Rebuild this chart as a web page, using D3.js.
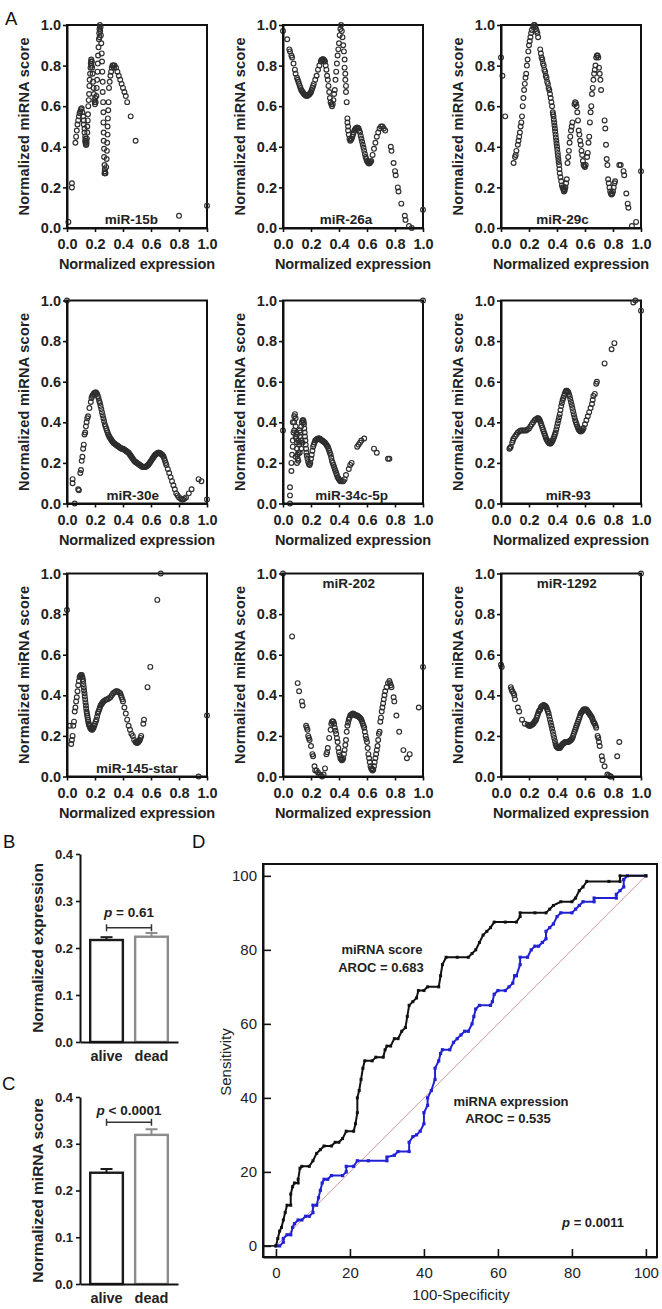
<!DOCTYPE html>
<html><head><meta charset="utf-8">
<script src="https://cdn.jsdelivr.net/npm/d3@7"></script>
<style>
html,body{margin:0;padding:0;background:#fff;}
svg{display:block;font-family:"Liberation Sans",Arial,Helvetica,sans-serif;}
</style></head>
<body>
<svg id="c" width="662" height="1309"></svg>
<script>
// ---------- Panel A data: [normalized expression, normalized miRNA score] ----------
const miR15b = [[0.01,0.03],[0.035,0.2],[0.035,0.22],
[0.06,0.42],[0.065,0.45],[0.07,0.48],[0.075,0.51],[0.08,0.53],[0.085,0.55],[0.09,0.565],[0.095,0.575],[0.1,0.585],[0.105,0.59],
[0.11,0.57],[0.115,0.55],[0.12,0.53],[0.12,0.51],[0.125,0.49],[0.125,0.47],[0.13,0.45],[0.13,0.43],[0.132,0.42],[0.135,0.41],[0.138,0.41],[0.14,0.42],[0.136,0.43],[0.133,0.44],
[0.142,0.44],[0.145,0.47],[0.145,0.5],[0.148,0.53],[0.15,0.56],[0.152,0.6],[0.155,0.63],[0.158,0.66],[0.16,0.7],[0.162,0.73],[0.165,0.76],[0.168,0.79],[0.17,0.81],[0.173,0.83],[0.178,0.82],[0.175,0.8],[0.172,0.82],
[0.18,0.79],[0.183,0.76],[0.186,0.72],[0.19,0.69],[0.192,0.66],[0.195,0.63],[0.2,0.61],[0.205,0.62],[0.198,0.62],[0.202,0.64],
[0.21,0.65],[0.212,0.69],[0.215,0.73],[0.218,0.77],[0.22,0.81],[0.222,0.85],[0.225,0.89],[0.228,0.93],[0.23,0.96],[0.232,0.98],[0.235,1.0],[0.24,0.99],[0.237,0.97],[0.233,0.94],
[0.242,0.95],[0.245,0.91],[0.248,0.86],[0.25,0.82],[0.252,0.77],[0.255,0.72],[0.255,0.67],[0.258,0.62],[0.26,0.57],[0.26,0.52],[0.262,0.47],[0.262,0.43],[0.265,0.39],[0.265,0.35],[0.268,0.31],[0.27,0.28],[0.272,0.27],[0.275,0.27],[0.27,0.29],[0.268,0.27],
[0.28,0.3],[0.283,0.34],[0.285,0.38],[0.287,0.42],[0.29,0.46],[0.29,0.5],[0.292,0.54],[0.295,0.58],[0.297,0.62],
[0.3,0.69],[0.305,0.72],[0.31,0.75],[0.315,0.77],[0.32,0.79],[0.33,0.8],[0.34,0.8],[0.325,0.8],[0.335,0.79],
[0.35,0.79],[0.36,0.77],[0.37,0.75],[0.38,0.73],[0.39,0.71],[0.4,0.69],[0.41,0.67],[0.42,0.65],[0.43,0.62],
[0.455,0.55],[0.49,0.43],[0.8,0.06],[1.0,0.11]];

const miR26a = [[0.0,0.97],[0.03,0.93],[0.045,0.88],[0.05,0.87],[0.06,0.85],[0.065,0.84],[0.075,0.81],[0.085,0.78],[0.09,0.76],[0.1,0.74],[0.105,0.73],[0.11,0.72],[0.115,0.71],[0.12,0.7],[0.125,0.69],[0.13,0.68],[0.135,0.675],[0.14,0.67],[0.145,0.665],[0.15,0.66],[0.155,0.657],[0.16,0.655],[0.165,0.652],[0.17,0.65],[0.175,0.652],[0.18,0.655],[0.185,0.657],[0.19,0.66],[0.195,0.665],[0.2,0.67],[0.205,0.68],[0.21,0.69],[0.215,0.7],[0.22,0.71],[0.23,0.73],[0.24,0.75],[0.25,0.78],[0.26,0.8],[0.27,0.82],[0.275,0.828],[0.28,0.83],[0.285,0.832],[0.29,0.83],[0.295,0.825],[0.3,0.82],[0.305,0.8],[0.31,0.78],[0.315,0.75],[0.32,0.73],[0.325,0.7],[0.33,0.67],[0.335,0.64],[0.34,0.62],[0.345,0.61],[0.35,0.6],[0.355,0.61],[0.36,0.63],[0.365,0.66],[0.37,0.68],[0.375,0.73],[0.38,0.77],[0.385,0.81],[0.39,0.85],[0.395,0.88],[0.4,0.91],[0.405,0.95],[0.41,0.98],[0.415,1.0],[0.42,0.97],[0.425,0.94],[0.43,0.9],[0.435,0.87],[0.44,0.83],[0.44,0.79],[0.445,0.76],[0.445,0.73],[0.45,0.7],[0.45,0.67],[0.455,0.62],[0.46,0.54],[0.46,0.52],[0.465,0.5],[0.465,0.48],[0.47,0.46],[0.475,0.44],[0.48,0.43],[0.485,0.435],[0.49,0.44],[0.495,0.45],[0.5,0.46],[0.505,0.47],[0.51,0.48],[0.515,0.485],[0.52,0.49],[0.525,0.493],[0.53,0.495],[0.535,0.493],[0.54,0.49],[0.545,0.48],[0.55,0.47],[0.555,0.455],[0.56,0.44],[0.565,0.425],[0.57,0.41],[0.575,0.395],[0.58,0.38],[0.585,0.365],[0.59,0.35],[0.595,0.34],[0.6,0.33],[0.605,0.325],[0.61,0.32],[0.615,0.318],[0.62,0.32],[0.625,0.325],[0.63,0.33],[0.64,0.36],[0.65,0.39],[0.66,0.42],[0.67,0.45],[0.68,0.47],[0.69,0.49],[0.7,0.5],[0.71,0.5],[0.72,0.49],[0.73,0.48],[0.77,0.4],[0.775,0.38],[0.79,0.32],[0.8,0.28],[0.805,0.26],[0.82,0.2],[0.825,0.18],[0.845,0.12],[0.87,0.06],[0.875,0.04],[0.9,0.01],[0.92,0.0],[1.0,0.09]];

const miR29c = [[0.0,0.84],[0.01,0.75],[0.03,0.55],
[0.09,0.32],[0.1,0.35],[0.105,0.36],[0.11,0.38],[0.12,0.41],[0.125,0.43],[0.13,0.45],[0.135,0.47],[0.14,0.5],[0.145,0.52],[0.15,0.55],[0.155,0.6],[0.16,0.64],[0.165,0.68],[0.17,0.71],[0.175,0.74],[0.18,0.76],[0.185,0.8],[0.19,0.83],[0.195,0.87],[0.2,0.9],[0.205,0.92],[0.21,0.94],[0.215,0.96],[0.22,0.975],[0.23,0.99],[0.235,1.0],[0.24,1.0],[0.245,0.99],[0.25,0.98],[0.255,0.97],[0.26,0.96],[0.265,0.94],
[0.28,0.88],[0.285,0.86],[0.29,0.84],[0.295,0.83],[0.3,0.81],[0.305,0.8],[0.31,0.78],[0.315,0.77],[0.32,0.75],[0.325,0.74],[0.33,0.72],[0.335,0.71],[0.34,0.69],[0.345,0.68],[0.35,0.66],[0.355,0.64],[0.36,0.62],[0.365,0.6],[0.37,0.57],[0.375,0.55],[0.38,0.52],[0.385,0.49],[0.39,0.46],[0.395,0.43],[0.4,0.4],[0.405,0.37],[0.41,0.34],[0.415,0.31],[0.42,0.27],[0.425,0.25],[0.43,0.23],[0.435,0.21],[0.44,0.2],[0.445,0.19],[0.45,0.18],[0.455,0.185],[0.46,0.2],[0.465,0.22],[0.47,0.24],
[0.372,0.56],[0.377,0.535],[0.382,0.505],[0.387,0.475],[0.392,0.445],[0.397,0.415],[0.402,0.385],[0.407,0.355],[0.412,0.325],[0.417,0.29],[0.447,0.2],[0.452,0.19],[0.457,0.2],
[0.475,0.32],[0.48,0.35],[0.485,0.38],[0.49,0.42],[0.495,0.45],[0.5,0.48],[0.505,0.5],[0.51,0.52],
[0.525,0.61],[0.53,0.62],[0.535,0.615],[0.54,0.6],[0.545,0.57],[0.55,0.53],[0.555,0.48],[0.56,0.46],[0.565,0.43],[0.57,0.41],[0.575,0.38],[0.58,0.36],[0.585,0.33],[0.59,0.31],[0.595,0.305],[0.6,0.3],[0.605,0.31],
[0.615,0.35],[0.62,0.37],[0.625,0.42],[0.63,0.45],[0.635,0.52],[0.64,0.57],[0.645,0.6],[0.65,0.66],[0.655,0.69],[0.66,0.73],[0.665,0.76],[0.67,0.78],[0.675,0.8],[0.68,0.84],[0.685,0.85],[0.69,0.85],[0.695,0.84],
[0.7,0.79],[0.705,0.76],[0.71,0.73],[0.715,0.68],
[0.74,0.53],[0.745,0.49],[0.75,0.41],[0.755,0.34],[0.76,0.31],[0.765,0.24],[0.77,0.22],[0.775,0.2],[0.78,0.18],[0.785,0.17],[0.79,0.165],[0.795,0.17],[0.8,0.18],[0.805,0.2],[0.81,0.22],[0.815,0.23],
[0.845,0.31],[0.855,0.31],[0.875,0.28],[0.88,0.26],[0.895,0.17],[0.905,0.12],[0.91,0.1],[0.935,0.01],[0.965,0.03],[1.0,0.28]];

const miR30e = [[0.0,1.0],[0.04,0.12],[0.04,0.1],[0.055,0.0],[0.08,0.07],[0.085,0.065],[0.095,0.15],[0.1,0.165],[0.105,0.21],[0.11,0.23],[0.115,0.27],[0.12,0.29],[0.125,0.34],[0.13,0.35],[0.135,0.38],[0.14,0.4],[0.145,0.42],[0.15,0.43],[0.16,0.47],[0.17,0.5],[0.175,0.52],[0.18,0.53],[0.185,0.535],[0.19,0.54],[0.195,0.545],[0.2,0.545],[0.205,0.548],[0.21,0.545],[0.215,0.54],[0.22,0.53],[0.225,0.52],[0.23,0.505],[0.235,0.495],[0.24,0.48],[0.245,0.465],[0.25,0.45],[0.255,0.435],[0.26,0.42],[0.265,0.405],[0.27,0.39],[0.275,0.38],[0.28,0.37],[0.285,0.36],[0.29,0.35],[0.295,0.34],[0.3,0.333],[0.305,0.326],[0.31,0.32],[0.315,0.315],[0.32,0.31],[0.325,0.305],[0.33,0.3],[0.335,0.297],[0.34,0.295],[0.345,0.292],[0.35,0.29],[0.355,0.287],[0.36,0.285],[0.365,0.282],[0.37,0.28],[0.375,0.277],[0.38,0.275],[0.385,0.272],[0.39,0.27],[0.395,0.27],[0.4,0.27],[0.405,0.267],[0.41,0.265],[0.415,0.262],[0.42,0.26],[0.425,0.257],[0.43,0.255],[0.435,0.252],[0.44,0.25],[0.445,0.245],[0.45,0.24],[0.455,0.235],[0.46,0.23],[0.465,0.225],[0.47,0.22],[0.475,0.215],[0.48,0.21],[0.485,0.207],[0.49,0.205],[0.495,0.202],[0.5,0.2],[0.505,0.197],[0.51,0.195],[0.515,0.192],[0.52,0.19],[0.525,0.187],[0.53,0.185],[0.535,0.182],[0.54,0.18],[0.545,0.18],[0.55,0.18],[0.555,0.18],[0.56,0.18],[0.565,0.182],[0.57,0.185],[0.575,0.187],[0.58,0.19],[0.585,0.195],[0.59,0.2],[0.595,0.205],[0.6,0.21],[0.605,0.215],[0.61,0.22],[0.615,0.225],[0.62,0.23],[0.625,0.235],[0.63,0.24],[0.635,0.242],[0.64,0.245],[0.645,0.248],[0.65,0.25],[0.655,0.25],[0.66,0.25],[0.665,0.248],[0.67,0.245],[0.675,0.242],[0.68,0.24],[0.685,0.235],[0.69,0.23],[0.695,0.22],[0.7,0.21],[0.705,0.2],[0.71,0.19],[0.72,0.17],[0.73,0.15],[0.74,0.13],[0.75,0.11],[0.76,0.09],[0.77,0.07],[0.78,0.05],[0.79,0.04],[0.8,0.03],[0.81,0.025],[0.82,0.02],[0.83,0.02],[0.84,0.025],[0.85,0.03],[0.87,0.05],[0.89,0.07],[0.94,0.12],[0.96,0.11],[1.0,0.02]];

const miR34c5p = [[0.0,0.36],[0.05,0.0],[0.05,0.04],[0.05,0.08],[0.06,0.16],[0.06,0.2],[0.065,0.24],[0.07,0.28],[0.07,0.31],[0.075,0.35],[0.08,0.4],[0.08,0.43],[0.085,0.44],[0.09,0.42],[0.09,0.38],[0.095,0.35],[0.095,0.32],[0.1,0.3],[0.1,0.27],[0.105,0.24],[0.105,0.22],[0.11,0.21],[0.11,0.25],[0.115,0.29],[0.12,0.33],[0.12,0.3],[0.125,0.35],[0.13,0.38],[0.13,0.31],[0.135,0.4],[0.14,0.41],[0.145,0.41],[0.148,0.4],[0.15,0.39],[0.152,0.37],[0.155,0.35],[0.157,0.33],[0.16,0.31],[0.162,0.29],[0.165,0.27],[0.167,0.25],[0.17,0.235],[0.175,0.22],[0.18,0.205],[0.185,0.195],[0.19,0.19],[0.195,0.2],[0.2,0.22],[0.205,0.24],[0.21,0.26],[0.215,0.28],[0.22,0.29],[0.225,0.3],[0.23,0.31],[0.235,0.312],[0.24,0.315],[0.245,0.318],[0.25,0.32],[0.255,0.32],[0.26,0.32],[0.265,0.318],[0.27,0.315],[0.275,0.312],[0.28,0.31],[0.285,0.307],[0.29,0.305],[0.295,0.302],[0.3,0.3],[0.305,0.295],[0.31,0.29],[0.315,0.285],[0.32,0.28],[0.325,0.27],[0.33,0.26],[0.335,0.25],[0.34,0.24],[0.345,0.225],[0.35,0.21],[0.355,0.2],[0.36,0.19],[0.365,0.18],[0.37,0.17],[0.375,0.16],[0.38,0.15],[0.385,0.14],[0.39,0.13],[0.395,0.125],[0.4,0.12],[0.405,0.115],[0.41,0.11],[0.42,0.11],[0.43,0.11],[0.44,0.12],[0.45,0.14],[0.47,0.17],[0.48,0.19],[0.49,0.2],[0.53,0.28],[0.54,0.29],[0.55,0.3],[0.56,0.31],[0.58,0.32],[0.65,0.27],[0.67,0.25],[0.75,0.22],[0.76,0.22],[1.0,1.0],
[0.09,0.33],[0.1,0.34],[0.11,0.31],[0.12,0.25],[0.13,0.27],[0.14,0.3],[0.09,0.23],[0.1,0.2],[0.07,0.4],[0.08,0.36],[0.12,0.36]];

const miR93 = [[0.06,0.27],[0.065,0.275],[0.07,0.28],[0.08,0.3],[0.085,0.31],[0.09,0.32],[0.1,0.33],[0.11,0.34],[0.12,0.35],[0.13,0.355],[0.14,0.36],[0.15,0.36],[0.16,0.36],[0.17,0.36],[0.18,0.36],[0.19,0.365],[0.2,0.37],[0.21,0.38],[0.22,0.39],[0.23,0.4],[0.24,0.41],[0.25,0.415],[0.26,0.42],[0.265,0.42],[0.27,0.418],[0.275,0.413],[0.28,0.405],[0.285,0.395],[0.29,0.385],[0.295,0.375],[0.3,0.365],[0.305,0.355],[0.31,0.345],[0.315,0.335],[0.32,0.325],[0.325,0.317],[0.33,0.31],[0.335,0.305],[0.34,0.3],[0.345,0.297],[0.35,0.295],[0.355,0.296],[0.36,0.3],[0.365,0.305],[0.37,0.312],[0.375,0.32],[0.38,0.33],[0.385,0.34],[0.39,0.35],[0.395,0.365],[0.4,0.38],[0.405,0.395],[0.41,0.41],[0.415,0.425],[0.42,0.44],[0.425,0.46],[0.43,0.48],[0.435,0.495],[0.44,0.51],[0.445,0.52],[0.45,0.53],[0.455,0.54],[0.46,0.55],[0.465,0.555],[0.47,0.555],[0.475,0.553],[0.48,0.548],[0.485,0.54],[0.49,0.53],[0.495,0.515],[0.5,0.5],[0.505,0.485],[0.51,0.47],[0.515,0.455],[0.52,0.44],[0.525,0.425],[0.53,0.41],[0.535,0.4],[0.54,0.39],[0.545,0.38],[0.55,0.372],[0.555,0.365],[0.56,0.36],[0.565,0.357],[0.57,0.355],[0.575,0.357],[0.58,0.36],[0.585,0.365],[0.59,0.372],[0.6,0.39],[0.61,0.41],[0.62,0.43],[0.63,0.45],[0.64,0.47],[0.65,0.49],[0.655,0.51],[0.66,0.53],[0.67,0.54],[0.68,0.59],[0.685,0.6],[0.74,0.69],[0.79,0.76],[0.81,0.79],[0.945,0.99],[0.96,1.0],[1.0,0.95]];

const miR145star = [[0.0,0.82],[0.02,0.25],[0.03,0.16],[0.035,0.18],[0.04,0.2],[0.045,0.25],[0.05,0.27],[0.055,0.32],[0.06,0.34],[0.065,0.37],[0.07,0.39],[0.075,0.42],[0.08,0.45],[0.085,0.47],[0.09,0.49],[0.095,0.495],[0.1,0.5],[0.105,0.5],[0.11,0.49],[0.112,0.48],[0.115,0.47],[0.117,0.455],[0.12,0.44],[0.122,0.425],[0.125,0.41],[0.127,0.395],[0.13,0.38],[0.132,0.365],[0.135,0.35],[0.137,0.335],[0.14,0.32],[0.142,0.31],[0.145,0.3],[0.147,0.29],[0.15,0.28],[0.152,0.27],[0.155,0.26],[0.158,0.255],[0.16,0.25],[0.165,0.24],[0.17,0.235],[0.175,0.232],[0.18,0.23],[0.185,0.235],[0.19,0.24],[0.195,0.25],[0.2,0.26],[0.205,0.27],[0.21,0.28],[0.215,0.295],[0.22,0.31],[0.225,0.32],[0.23,0.33],[0.235,0.34],[0.24,0.35],[0.245,0.355],[0.25,0.36],[0.255,0.365],[0.26,0.37],[0.27,0.375],[0.28,0.38],[0.29,0.38],[0.3,0.385],[0.31,0.39],[0.32,0.4],[0.33,0.41],[0.34,0.415],[0.35,0.42],[0.36,0.42],[0.37,0.415],[0.38,0.41],[0.385,0.4],[0.39,0.39],[0.395,0.38],[0.4,0.37],[0.41,0.34],[0.42,0.31],[0.43,0.28],[0.44,0.25],[0.45,0.23],[0.46,0.21],[0.47,0.2],[0.48,0.18],[0.49,0.17],[0.495,0.168],[0.5,0.165],[0.505,0.167],[0.51,0.17],[0.515,0.175],[0.52,0.18],[0.525,0.19],[0.53,0.2],[0.545,0.26],[0.55,0.28],[0.575,0.44],[0.595,0.54],[0.645,0.87],[0.67,1.0],[0.94,0.0],[1.0,0.3]];

const miR202 = [[0.0,1.0],[0.065,0.69],[0.105,0.46],[0.115,0.42],[0.135,0.37],[0.14,0.35],[0.165,0.25],[0.17,0.24],[0.175,0.23],[0.18,0.2],[0.185,0.19],[0.19,0.18],[0.2,0.15],[0.21,0.11],[0.215,0.1],[0.225,0.05],[0.23,0.03],[0.24,0.03],[0.25,0.02],[0.26,0.01],[0.27,0.005],[0.28,0.0],[0.29,0.01],[0.3,0.04],[0.31,0.11],[0.315,0.12],[0.32,0.14],[0.33,0.19],[0.34,0.23],[0.345,0.26],[0.35,0.27],[0.355,0.272],[0.36,0.27],[0.365,0.26],[0.37,0.24],[0.375,0.225],[0.38,0.21],[0.385,0.19],[0.39,0.17],[0.395,0.14],[0.4,0.12],[0.405,0.105],[0.41,0.09],[0.415,0.085],[0.42,0.08],[0.425,0.083],[0.43,0.09],[0.435,0.11],[0.44,0.13],[0.445,0.155],[0.45,0.18],[0.455,0.22],[0.46,0.25],[0.465,0.265],[0.47,0.28],[0.475,0.29],[0.48,0.3],[0.485,0.303],[0.49,0.305],[0.495,0.308],[0.5,0.31],[0.505,0.308],[0.51,0.305],[0.515,0.303],[0.52,0.3],[0.525,0.3],[0.53,0.3],[0.535,0.298],[0.54,0.295],[0.545,0.292],[0.55,0.29],[0.555,0.285],[0.56,0.28],[0.565,0.27],[0.57,0.26],[0.575,0.25],[0.58,0.24],[0.585,0.22],[0.59,0.2],[0.595,0.185],[0.6,0.17],[0.605,0.14],[0.61,0.11],[0.615,0.09],[0.62,0.07],[0.625,0.05],[0.63,0.04],[0.635,0.035],[0.64,0.03],[0.645,0.035],[0.65,0.05],[0.655,0.07],[0.66,0.09],[0.665,0.11],[0.67,0.13],[0.675,0.15],[0.68,0.18],[0.685,0.21],[0.69,0.22],[0.695,0.27],[0.7,0.29],[0.705,0.32],[0.71,0.34],[0.715,0.36],[0.72,0.38],[0.725,0.4],[0.73,0.42],[0.74,0.44],[0.75,0.46],[0.76,0.47],[0.765,0.46],[0.77,0.45],[0.775,0.44],[0.79,0.39],[0.795,0.37],[0.81,0.3],[0.83,0.22],[0.86,0.13],[0.885,0.09],[0.905,0.11],[0.97,0.34],[1.0,0.54]];

const miR1292 = [[0.0,0.55],[0.005,0.54],[0.07,0.44],[0.075,0.43],[0.08,0.42],[0.09,0.41],[0.095,0.4],[0.1,0.38],[0.12,0.34],[0.13,0.32],[0.15,0.28],[0.17,0.26],[0.19,0.255],[0.2,0.25],[0.205,0.25],[0.21,0.25],[0.215,0.252],[0.22,0.255],[0.225,0.258],[0.23,0.26],[0.235,0.265],[0.24,0.27],[0.245,0.275],[0.25,0.28],[0.255,0.29],[0.26,0.3],[0.265,0.31],[0.27,0.32],[0.275,0.325],[0.28,0.33],[0.285,0.34],[0.29,0.345],[0.295,0.348],[0.3,0.35],[0.305,0.352],[0.31,0.35],[0.315,0.348],[0.32,0.345],[0.325,0.34],[0.33,0.33],[0.335,0.32],[0.34,0.31],[0.345,0.295],[0.35,0.28],[0.355,0.265],[0.36,0.25],[0.365,0.235],[0.37,0.22],[0.375,0.205],[0.38,0.19],[0.385,0.175],[0.39,0.16],[0.395,0.15],[0.4,0.145],[0.405,0.142],[0.41,0.14],[0.415,0.14],[0.42,0.14],[0.425,0.145],[0.43,0.15],[0.435,0.155],[0.44,0.16],[0.445,0.163],[0.45,0.165],[0.455,0.168],[0.46,0.17],[0.465,0.17],[0.47,0.17],[0.475,0.17],[0.48,0.17],[0.485,0.172],[0.49,0.175],[0.495,0.177],[0.5,0.18],[0.505,0.185],[0.51,0.19],[0.515,0.2],[0.52,0.21],[0.525,0.22],[0.53,0.23],[0.535,0.24],[0.54,0.25],[0.545,0.26],[0.55,0.27],[0.555,0.28],[0.56,0.29],[0.565,0.3],[0.57,0.31],[0.575,0.315],[0.58,0.32],[0.585,0.325],[0.59,0.33],[0.595,0.33],[0.6,0.33],[0.605,0.33],[0.61,0.33],[0.615,0.325],[0.62,0.32],[0.625,0.315],[0.63,0.31],[0.635,0.305],[0.64,0.3],[0.645,0.295],[0.65,0.29],[0.655,0.28],[0.66,0.27],[0.665,0.265],[0.67,0.26],[0.675,0.25],[0.68,0.24],[0.69,0.2],[0.695,0.19],[0.7,0.17],[0.705,0.15],[0.72,0.1],[0.725,0.08],[0.74,0.05],[0.76,0.01],[0.77,0.005],[0.78,0.0],[0.785,0.0],[0.83,0.1],[0.845,0.17],[1.0,1.0]];

const panelNames = ["miR-15b","miR-26a","miR-29c","miR-30e","miR-34c-5p","miR-93","miR-145-star","miR-202","miR-1292"];
const panelData = [miR15b,miR26a,miR29c,miR30e,miR34c5p,miR93,miR145star,miR202,miR1292];
const labelAtTop = [false,false,false,false,false,false,false,true,true];
const axisTicksA = [0,0.2,0.4,0.6,0.8,1.0];

// ---------- Panels B & C ----------
const groups = ["alive","dead"];
const exprMean = [0.217,0.224];
const exprErr  = [0.006,0.008];
const scoreMean = [0.238,0.319];
const scoreErr  = [0.008,0.012];
const barTicks = [0,0.1,0.2,0.3,0.4];

// ---------- Panel D (ROC) ----------
const rocScore = [[0,0],[0.5,2],[1,4],[1.5,5],[2,7],[2.5,9],[3,11],[4,11],[4,14],[4.5,16],[5,17],[6,17],[6,18],[6.5,21],[7,21.5],[9,21.5],[10,23],[11,25],[12,26],[13,27],[15,27],[16,28],[17,28],[18,29],[19,31],[21,31],[21.5,33],[22,36],[22,40],[22.5,42],[23,45],[23.5,48],[24,50],[26,50],[27,51],[29,51],[29.5,53],[30,54],[31,54],[32,56],[33,56],[34,58],[35,59],[35.5,62],[36,65],[37,66],[38,67],[38.5,69],[40,69],[41,70],[44,70],[44.5,73],[45,76],[46,78],[49,78],[52,78],[53,79],[54,80],[55,82],[56,84],[57,85],[58,86],[59,87.5],[62,87.5],[65,87.5],[66,89],[66,90],[70,90],[73,90],[74,91],[75,92],[77,93],[80,93],[81,94],[82,96],[83,97],[84,98.5],[90,98.5],[93,98.5],[93,100],[100,100]];
const rocExpr = [[0,0],[1,0],[2,1],[2,2],[3,3],[4,3],[4.5,5],[5,6],[6,7],[7,7],[8,8],[9,8],[10,9],[10,11],[11,11],[11.5,13],[12,15],[12.5,17],[13,18],[14,18],[15,19],[18,19],[19,20],[19,21.5],[21,21.5],[22,23],[25,23],[30,23],[30,24],[32,24.5],[33,25.5],[36,25.5],[36,28],[37,29.5],[38,30],[39,31],[40,33],[40,36],[41,38],[41,40],[42,42],[43,45],[43,48],[44,50],[44.5,52],[45,53],[47,53],[48,55],[49,56],[50,57],[51,58],[52,58],[53,60],[53.5,62],[54,64],[55,65],[58,65],[58.5,66],[59,68],[60,69],[62,69],[63,70],[64,71],[64.5,73],[65,73],[66,76],[66,78],[68,78],[69,80],[70,81],[71,81],[72,82],[73,83],[73,85],[74,86],[75,87],[76,89],[77,90],[80,90],[81,91],[82,92],[83,93],[86,93],[86,94],[92,94],[92,95],[93,96],[94,97],[94,99],[95,100],[100,100]];
const rocTicks = [0,20,40,60,80,100];

// ================= drawing =================
const svg = d3.select("#c");
svg.append("rect").attr("width",662).attr("height",1309).attr("fill","#fff");
const FONT = '"Liberation Sans",Arial,Helvetica,sans-serif';

function styleAxis(g, lw){
  g.select(".domain").attr("stroke","#111").attr("stroke-width",lw);
  g.selectAll(".tick line").attr("stroke","#111").attr("stroke-width",1.6);
}

// Panel letters
[["A",5,25],["B",3,848],["D",192,848],["C",2,1090]].forEach(([t,x,y])=>{
  svg.append("text").attr("x",x).attr("y",y).attr("font-size",18.5).attr("fill","#111").text(t);
});

// ---- Panel A ----
const colX = [67,283,501], rowY = [25,300.5,573.5], PW = 140, PH = 203;
const labelCx = [0.46,0.45,0.44,0.47,0.49,0.48,0.5,0.47,0.47];
panelData.forEach((data,i)=>{
  const x0 = colX[i%3], y0 = rowY[Math.floor(i/3)];
  const x = d3.scaleLinear().domain([0,1]).range([x0,x0+PW]);
  const y = d3.scaleLinear().domain([0,1]).range([y0+PH,y0]);
  const g = svg.append("g");
  g.append("rect").attr("x",x0).attr("y",y0).attr("width",PW).attr("height",PH)
    .attr("fill","none").attr("stroke","#111").attr("stroke-width",2);
  g.selectAll("circle").data(data).join("circle")
    .attr("cx",d=>x(d[0])).attr("cy",d=>y(d[1])).attr("r",2.4)
    .attr("fill","none").attr("stroke","#2e2e2e").attr("stroke-width",1.15);
  const ax = g.append("g").attr("transform",`translate(0,${y0+PH})`)
    .call(d3.axisBottom(x).tickValues(axisTicksA).tickFormat(d3.format(".1f")).tickSize(4).tickSizeOuter(0).tickPadding(7));
  const ay = g.append("g").attr("transform",`translate(${x0},0)`)
    .call(d3.axisLeft(y).tickValues(axisTicksA).tickFormat(d3.format(".1f")).tickSize(4).tickSizeOuter(0).tickPadding(2));
  [ax,ay].forEach(a=>{styleAxis(a,2); a.selectAll("text").attr("font-family",FONT).attr("font-size",14.5).attr("font-weight","bold").attr("fill","#222");});
  g.append("text").attr("x",x0+PW/2).attr("y",y0+PH+41).attr("text-anchor","middle")
    .attr("font-size",14.5).attr("font-weight","bold").attr("fill","#222")
    .attr("textLength",156).attr("lengthAdjust","spacing").text("Normalized expression");
  g.append("text").attr("transform",`translate(${x0-38},${y0+PH/2}) rotate(-90)`).attr("text-anchor","middle")
    .attr("font-size",14.5).attr("font-weight","bold").attr("fill","#222")
    .attr("textLength",178).attr("lengthAdjust","spacing").text("Normalized miRNA score");
  const ly = labelAtTop[i] ? y(0.93) : y(0.0)-4;
  g.append("text").attr("x",x(labelCx[i])).attr("y",ly).attr("text-anchor","middle")
    .attr("font-size",13.5).attr("font-weight","bold").attr("fill","#222").text(panelNames[i]);
});

// ---- Panels B & C ----
function barPanel(top, bottom, means, errs, title, pText, pY, brY){
  const y = d3.scaleLinear().domain([0,0.4]).range([bottom,top]);
  const x = d3.scaleBand().domain(groups).range([80,178]).paddingInner(0.22).paddingOuter(0.2);
  const g = svg.append("g");
  const cols = ["#1a1a1a","#8c8c8c"];
  groups.forEach((k,j)=>{
    const bx = x(k), bw = x.bandwidth(), cx = bx+bw/2;
    g.append("rect").attr("x",bx+1.2).attr("y",y(means[j])).attr("width",bw-2.4).attr("height",y(0)-y(means[j]))
      .attr("fill","#fff").attr("stroke",cols[j]).attr("stroke-width",2.4);
    g.append("line").attr("x1",cx).attr("x2",cx).attr("y1",y(means[j])).attr("y2",y(means[j]+errs[j]))
      .attr("stroke",cols[j]).attr("stroke-width",2);
    g.append("line").attr("x1",cx-6).attr("x2",cx+6).attr("y1",y(means[j]+errs[j])).attr("y2",y(means[j]+errs[j]))
      .attr("stroke",cols[j]).attr("stroke-width",2);
  });
  const ay = g.append("g").attr("transform","translate(80,0)")
    .call(d3.axisLeft(y).tickValues(barTicks).tickFormat(d3.format(".1f")).tickSize(4).tickSizeOuter(0).tickPadding(3));
  styleAxis(ay,2);
  ay.selectAll("text").attr("font-family",FONT).attr("font-size",13).attr("font-weight","bold").attr("fill","#222");
  const ax = g.append("g").attr("transform",`translate(0,${bottom})`)
    .call(d3.axisBottom(x).tickSize(0).tickPadding(9));
  styleAxis(ax,2);
  ax.selectAll("text").attr("font-family",FONT).attr("font-size",14.5).attr("font-weight","bold").attr("fill","#222");
  const c1 = x("alive")+x.bandwidth()/2, c2 = x("dead")+x.bandwidth()/2;
  g.append("line").attr("x1",c1).attr("x2",c2).attr("y1",y(brY)).attr("y2",y(brY)).attr("stroke","#333").attr("stroke-width",1.5);
  [c1,c2].forEach(c=>g.append("line").attr("x1",c).attr("x2",c).attr("y1",y(brY)-3.5).attr("y2",y(brY)+3.5).attr("stroke","#333").attr("stroke-width",1.5));
  const t = g.append("text").attr("x",(c1+c2)/2).attr("y",y(pY)+5).attr("text-anchor","middle")
    .attr("font-size",13.5).attr("font-weight","bold").attr("fill","#222");
  t.append("tspan").attr("font-style","italic").text("p");
  t.append("tspan").text(pText);
  g.append("text").attr("transform",`translate(43,${(top+bottom)/2}) rotate(-90)`).attr("text-anchor","middle")
    .attr("font-size",15.5).attr("font-weight","bold").attr("fill","#222").text(title);
}
barPanel(854,1042,exprMean,exprErr,"Normalized expression"," = 0.61",0.277,0.243);
barPanel(1097,1284,scoreMean,scoreErr,"Normalized miRNA score"," < 0.0001",0.373,0.346);

// ---- Panel D ----
(function(){
  const x = d3.scaleLinear().domain([-3.5,103]).range([263,657]);
  const y = d3.scaleLinear().domain([-3,103.2]).range([1257,864]);
  const g = svg.append("g");
  g.append("line").attr("x1",x(0)).attr("y1",y(0)).attr("x2",x(100)).attr("y2",y(100))
    .attr("stroke","#c98888").attr("stroke-width",0.9);
  const line = d3.line().x(d=>x(d[0])).y(d=>y(d[1]));
  g.append("path").datum(rocExpr).attr("d",line).attr("fill","none").attr("stroke","#2222d4").attr("stroke-width",2);
  g.selectAll(".mE").data(rocExpr).join("rect").attr("class","mE")
    .attr("x",d=>x(d[0])-1.6).attr("y",d=>y(d[1])-1.6).attr("width",3.2).attr("height",3.2).attr("fill","#2222d4");
  g.append("path").datum(rocScore).attr("d",line).attr("fill","none").attr("stroke","#111").attr("stroke-width",2);
  g.selectAll(".mS").data(rocScore).join("rect").attr("class","mS")
    .attr("x",d=>x(d[0])-1.5).attr("y",d=>y(d[1])-1.5).attr("width",3).attr("height",3).attr("fill","#111");
  g.append("line").attr("x1",263).attr("x2",x(0)).attr("y1",y(0)).attr("y2",y(0)).attr("stroke","#111").attr("stroke-width",1.6);
  g.append("rect").attr("x",263).attr("y",864).attr("width",394).attr("height",393)
    .attr("fill","none").attr("stroke","#111").attr("stroke-width",2);
  const ax = g.append("g").attr("transform","translate(0,1257)")
    .call(d3.axisBottom(x).tickValues(rocTicks).tickSizeInner(-8).tickSizeOuter(0).tickPadding(10));
  const ay = g.append("g").attr("transform","translate(263,0)")
    .call(d3.axisLeft(y).tickValues(rocTicks).tickSizeInner(-8).tickSizeOuter(0).tickPadding(6));
  [ax,ay].forEach(a=>{styleAxis(a,2); a.selectAll("text").attr("font-family",FONT).attr("font-size",15).attr("fill","#222");});
  g.append("text").attr("x",461).attr("y",1300).attr("text-anchor","middle").attr("font-size",15).attr("fill","#222").text("100-Specificity");
  g.append("text").attr("transform","translate(231,1062) rotate(-90)").attr("text-anchor","middle").attr("font-size",15).attr("fill","#222").text("Sensitivity");
  const lbl = (t,cx,cy)=>g.append("text").attr("x",cx).attr("y",cy+4.5).attr("text-anchor","middle").attr("font-size",13).attr("font-weight","bold").attr("fill","#222").text(t);
  lbl("miRNA score",382,949); lbl("AROC = 0.683",381,967);
  lbl("miRNA expression",511,1101); lbl("AROC = 0.535",508,1118);
  const p = g.append("text").attr("x",593).attr("y",1226.5).attr("text-anchor","middle").attr("font-size",13).attr("font-weight","bold").attr("fill","#222");
  p.append("tspan").attr("font-style","italic").text("p");
  p.append("tspan").text(" = 0.0011");
})();
</script>
</body></html>
